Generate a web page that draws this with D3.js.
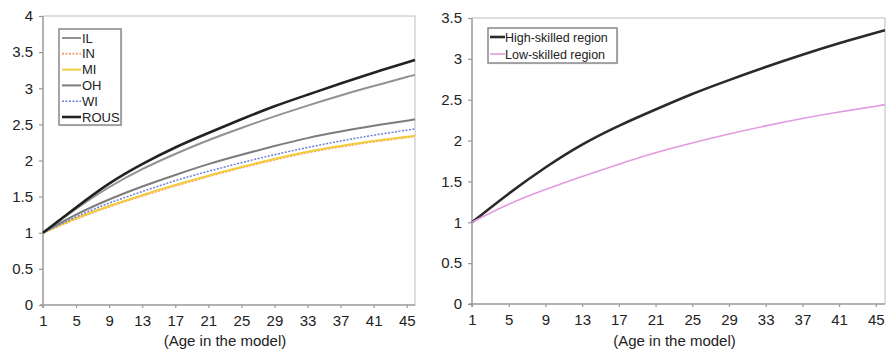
<!DOCTYPE html>
<html>
<head>
<meta charset="utf-8">
<script src="https://cdn.jsdelivr.net/npm/d3@7"></script>
<style>
  body { margin: 0; background: #fff; }
  text { font-family: "Liberation Sans", Arial, sans-serif; fill: #222; }
</style>
</head>
<body>
<svg id="chart" width="886" height="351"></svg>
<script>
var ages = [1, 5, 9, 13, 17, 21, 25, 29, 33, 37, 41, 45, 46];

// left panel: states
var ilValues   = [1, 1.33, 1.63, 1.88, 2.09, 2.28, 2.45, 2.61, 2.76, 2.90, 3.03, 3.155, 3.185];
var inValues   = [1, 1.19, 1.36, 1.51, 1.65, 1.78, 1.90, 2.01, 2.11, 2.19, 2.26, 2.32, 2.335];
var miValues   = [1, 1.20, 1.37, 1.52, 1.66, 1.79, 1.91, 2.02, 2.12, 2.20, 2.27, 2.33, 2.34];
var ohValues   = [1, 1.25, 1.46, 1.64, 1.80, 1.95, 2.08, 2.20, 2.31, 2.40, 2.48, 2.55, 2.57];
var wiValues   = [1, 1.22, 1.41, 1.57, 1.72, 1.85, 1.97, 2.08, 2.18, 2.27, 2.35, 2.42, 2.435];
var rousValues = [1, 1.35, 1.68, 1.95, 2.18, 2.38, 2.57, 2.75, 2.91, 3.065, 3.215, 3.355, 3.39];

// right panel: regions
var highValues = [1, 1.35, 1.67, 1.95, 2.18, 2.38, 2.57, 2.74, 2.90, 3.05, 3.19, 3.32, 3.35];
var lowValues  = [1, 1.22, 1.40, 1.56, 1.71, 1.85, 1.97, 2.08, 2.18, 2.27, 2.35, 2.42, 2.44];

var xTicks = [1, 5, 9, 13, 17, 21, 25, 29, 33, 37, 41, 45];
var yTicksLeft = [0, 0.5, 1, 1.5, 2, 2.5, 3, 3.5, 4];
var yTicksRight = [0, 0.5, 1, 1.5, 2, 2.5, 3, 3.5];
var xTitle = "(Age in the model)";

var svg = d3.select('#chart');

function drawPanel(cfg) {
    var g = svg.append('g');
    var x = d3.scaleLinear().domain([1, 46]).range([cfg.left, cfg.right]);
    var y = d3.scaleLinear().domain([0, cfg.yMax]).range([cfg.bottom, cfg.top]);

    // light frame on top and right
    g.append('path')
        .attr('d', 'M' + cfg.left + ',' + cfg.top + 'H' + cfg.right + 'V' + cfg.bottom)
        .attr('fill', 'none').attr('stroke', '#d4d4d4').attr('stroke-width', 1.5);

    var yAxis = g.append('g')
        .attr('transform', 'translate(' + cfg.left + ',0)')
        .call(d3.axisLeft(y).tickValues(cfg.yTicks).tickSize(4).tickPadding(6)
            .tickFormat(function (d) { return d; }));
    var xAxis = g.append('g')
        .attr('transform', 'translate(0,' + cfg.bottom + ')')
        .call(d3.axisBottom(x).tickValues(xTicks).tickSize(3).tickPadding(7));

    [yAxis, xAxis].forEach(function (a) {
        a.select('.domain').attr('stroke', '#999').attr('stroke-width', 1.5);
        a.selectAll('line').attr('stroke', '#999').attr('stroke-width', 1.2);
        a.selectAll('text').style('font-size', '15px').attr('fill', '#222');
    });
    // extend the domain lines a little like the original
    xAxis.select('.domain').attr('d', 'M' + (cfg.left - 3) + ',0H' + cfg.right);
    yAxis.select('.domain').attr('d', 'M0,' + cfg.top + 'V' + (cfg.bottom + 3));

    g.append('text')
        .attr('x', (cfg.left + cfg.right) / 2 - 4)
        .attr('y', 346)
        .attr('text-anchor', 'middle')
        .style('font-size', '15px')
        .text(xTitle);

    var line = d3.line()
        .x(function (d, i) { return x(ages[i]); })
        .y(function (d) { return y(d); })
        .curve(d3.curveNatural);

    cfg.series.forEach(function (s) {
        g.append('path')
            .datum(s.values)
            .attr('d', line)
            .attr('fill', 'none')
            .attr('stroke', s.color)
            .attr('stroke-width', s.width)
            .attr('stroke-dasharray', s.dash || null);
    });

    // legend
    var lg = g.append('g');
    lg.append('rect')
        .attr('x', cfg.legend.x + 1.5).attr('y', cfg.legend.y + 1.5)
        .attr('width', cfg.legend.w).attr('height', cfg.legend.h)
        .attr('fill', '#eee');
    lg.append('rect')
        .attr('x', cfg.legend.x).attr('y', cfg.legend.y)
        .attr('width', cfg.legend.w).attr('height', cfg.legend.h)
        .attr('fill', '#fff').attr('stroke', '#888').attr('stroke-width', 1.5);

    cfg.series.forEach(function (s, i) {
        var ly = cfg.legend.y + cfg.legend.first + i * cfg.legend.step;
        lg.append('line')
            .attr('x1', cfg.legend.x + cfg.legend.lx0).attr('x2', cfg.legend.x + cfg.legend.lx1)
            .attr('y1', ly).attr('y2', ly)
            .attr('stroke', s.color).attr('stroke-width', s.width)
            .attr('stroke-dasharray', s.dash || null);
        lg.append('text')
            .attr('x', cfg.legend.x + cfg.legend.tx)
            .attr('y', ly)
            .attr('dy', '0.36em')
            .style('font-size', cfg.legend.fontSize)
            .text(s.name);
    });
}

var stateSeries = [
    { name: 'IL', values: ilValues, color: '#929292', width: 2 },
    { name: 'IN', values: inValues, color: '#f4a07a', width: 2, dash: '2,1.5' },
    { name: 'MI', values: miValues, color: '#f2cc3a', width: 2 },
    { name: 'OH', values: ohValues, color: '#7c7c7c', width: 2 },
    { name: 'WI', values: wiValues, color: '#6b7fd8', width: 1.5, dash: '2,1.5' },
    { name: 'ROUS', values: rousValues, color: '#222', width: 2.6 }
];

drawPanel({
    left: 43, right: 415, top: 16, bottom: 305, yMax: 4,
    yTicks: yTicksLeft,
    series: stateSeries,
    legend: { x: 59, y: 29, w: 62, h: 96, first: 9, step: 15.8,
              lx0: 3, lx1: 22, tx: 23, fontSize: '13px' }
});

drawPanel({
    left: 472, right: 885, top: 18, bottom: 304, yMax: 3.5,
    yTicks: yTicksRight,
    series: [
        { name: 'High-skilled region', values: highValues, color: '#2a2a2a', width: 2.6 },
        { name: 'Low-skilled region', values: lowValues, color: '#e39ae0', width: 1.6 }
    ],
    legend: { x: 488, y: 28, w: 129, h: 35, first: 9, step: 17,
              lx0: 2, lx1: 17, tx: 17, fontSize: '12.5px' }
});
</script>
</body>
</html>
